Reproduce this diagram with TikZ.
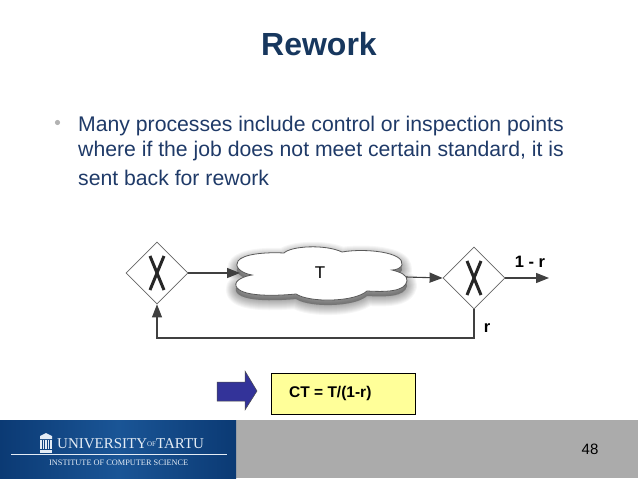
\documentclass[tikz,border=0pt]{standalone}
\usepackage{fontspec}
\setmainfont{Liberation Sans}
\newfontfamily\logofont{Liberation Serif}
\usetikzlibrary{arrows.meta}
\usetikzlibrary{shapes.geometric}

\definecolor{titleblue}{HTML}{17375E}
\definecolor{bodyblue}{HTML}{1F3A68}
\definecolor{footblue}{HTML}{0B3A74}
\definecolor{footlight}{HTML}{1A5596}
\definecolor{footgrey}{HTML}{ABABAB}
\definecolor{noteyellow}{HTML}{FFFF99}
\definecolor{arrowblue}{HTML}{333399}
\definecolor{logotext}{HTML}{E4ECF5}

\tikzset{
  gate/.style={draw=black!60, line width=.8pt, shape=diamond, fill=white, minimum width=62pt, minimum height=62pt, inner sep=0pt},
  flow/.style={draw=black!75, line width=1.1pt, -{Triangle[length=13pt,width=10pt]}},
  bodyline/.style={anchor=base west, inner sep=0pt, text=bodyblue, font=\fontsize{21.2}{21.2}\selectfont},
  flowlabel/.style={inner sep=0pt, font=\bfseries\fontsize{16.5}{16.5}\selectfont},
  logoline/.style={inner sep=0pt, text=logotext}
}

\newcommand{\cloudoutline}{(252,275) .. controls (240,273) and (234,266) .. (238,261) .. controls (243,254) and (265,252) .. (284,253) .. controls (291,246) and (325,244) .. (342,252) .. controls (365,248) and (405,252) .. (402,265) .. controls (401,268) and (396,270) .. (392,270) .. controls (400,272) and (408,275) .. (407,281) .. controls (405,292) and (385,292) .. (367,291) .. controls (355,302) and (310,303) .. (296,294) .. controls (275,296) and (240,297) .. (236,286) .. controls (234,280) and (245,276) .. (252,275) -- cycle}
\newcommand{\crossmark}[1]{\begin{scope}[shift={(#1)}]
\draw[line width=3pt, black!85] (-7,-17) .. controls (-2,-5) and (2,5) .. (7,17);
\draw[line width=3pt, black!85] (7,-17) .. controls (2,-5) and (-2,5) .. (-7,17);
\end{scope}}

\begin{document}
\begin{tikzpicture}[x=1pt, y=-1pt]
\useasboundingbox (0,0) rectangle (638,479);
\fill[white] (0,0) rectangle (638,479);

% title and text
\node[inner sep=0pt, text=titleblue, font=\bfseries\fontsize{32}{32}\selectfont] (title) at (319,44) {Rework};
\fill[black!30] (57.5,122.5) circle (2.6);
\node[bodyline] (line1) at (78,131) {Many processes include control or inspection points};
\node[bodyline] (line2) at (78,156) {where if the job does not meet certain standard, it is};
\node[bodyline] (line3) at (78,185) {sent back for rework};

% process
\node[gate] (gatein) at (157,273) {};
\node[gate] (gateout) at (474,278) {};
\crossmark{gatein}
\crossmark{gateout}

\coordinate (cloudin) at (240,273);
\coordinate (cloudout) at (406,277);
\coordinate (outend) at (549,278);
\coordinate (backright) at (474,338);
\coordinate (backleft) at (157,338);

\foreach \w in {20,18,16,14,12,10,8,6,4,2}
  \fill[black, opacity=.035, draw=black, line width=\w pt, line join=round, yshift=-5pt] \cloudoutline;
\draw[black!65, fill=white, line width=.8pt] \cloudoutline;
\node[inner sep=0pt, font=\fontsize{17}{17}\selectfont] (cloudlabel) at (320,273) {T};

\draw[flow] (gatein.east) -- (cloudin);
\draw[flow] (cloudout) -- (gateout.west);
\draw[flow] (gateout.east) -- (outend);
\draw[flow] (gateout.south) -- (backright) -- (backleft) -- (gatein.south);
\node[flowlabel] (outlabel) at (530,262) {1 - r};
\node[flowlabel] (backlabel) at (487,328) {r};

% result
\draw[black!70, fill=arrowblue, line width=.5pt] (217,382) -- (245,382) -- (245,371) -- (257,391) -- (245,410) -- (245,401) -- (217,401) -- cycle;
\node[draw=black, fill=noteyellow, line width=.8pt, minimum width=144pt, minimum height=41pt, inner sep=0pt] (resultbox) at (343,393.5) {};
\node[inner sep=0pt, anchor=west, font=\bfseries\fontsize{15.5}{15.5}\selectfont] (resulttext) at (289,393) {CT = T/(1-r)};

% footer
\fill[footgrey] (236,420) rectangle (638,478);
\shade[left color=footblue, right color=footblue, middle color=footlight] (0,420) rectangle (236,478);
\foreach \c in {41,43.5,46,48.5,51}
  \draw[logotext, line width=1.3pt] (\c,440) -- (\c,449);
\fill[logotext] (40,436) -- (46,433) -- (52,436) -- (52,439) -- (40,439) -- cycle;
\fill[logotext] (40,450) rectangle (52,453);
\draw[logotext, line width=.6pt] (11,454) -- (227,454);
\node[logoline, anchor=west, font=\logofont\fontsize{15}{15}\selectfont] (logoname) at (57,444) {UNIVERSITY\raisebox{2pt}{\fontsize{7}{7}\selectfont OF}TARTU};
\node[logoline, anchor=west, font=\logofont\fontsize{8.3}{8.3}\selectfont] (logosub) at (49,463) {INSTITUTE OF COMPUTER SCIENCE};
\node[inner sep=0pt, font=\fontsize{15}{15}\selectfont] (pagenum) at (590,449) {48};
\end{tikzpicture}
\end{document}
